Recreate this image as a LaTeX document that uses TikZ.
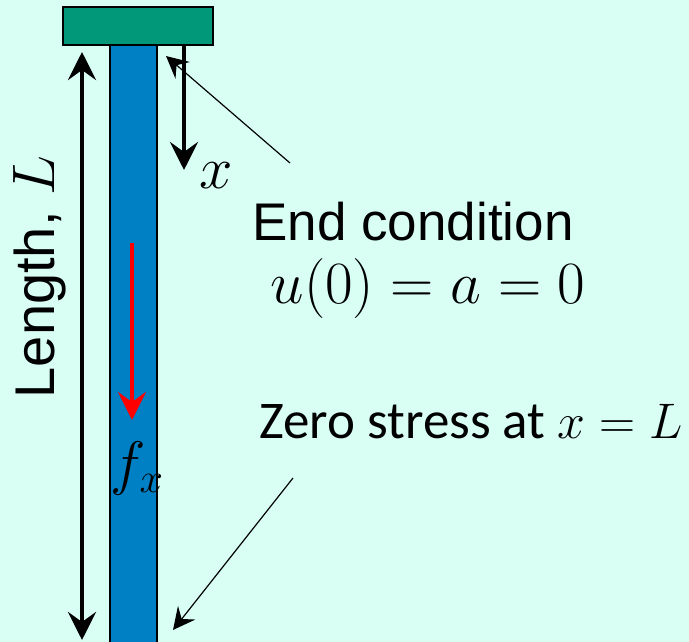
\RequirePackage{fix-cm}
\documentclass[tikz,border=0pt]{standalone}
\usepackage{fontspec}
\setmainfont{Liberation Sans}
\newfontfamily\calib{Carlito}
\usetikzlibrary{arrows.meta}

\definecolor{bgcyan}{RGB}{217,255,245}
\definecolor{plategreen}{RGB}{0,152,120}
\definecolor{barblue}{RGB}{0,128,196}
\definecolor{loadred}{RGB}{255,0,0}

\newcommand{\bigmath}[2][60]{{\fontsize{#1}{64}\selectfont$#2$}}

\begin{document}
\begin{tikzpicture}[x=1pt, y=-1pt,
  bigarrow/.style={line width=4.5pt, -{Stealth[length=28pt,width=28pt,inset=10pt]}},
  leader/.style={line width=1.2pt, -{Stealth[length=22pt,width=22pt,inset=8pt]}},
  bigtext/.style={inner sep=0pt, anchor=base, font=\fontsize{53}{60}\selectfont}]

  % =======================================================
  % BACKGROUND
  % =======================================================
  \fill[bgcyan] (0,0) rectangle (689,642);
  \useasboundingbox (0,0) rectangle (689,642);

  % =======================================================
  % 1. Support plate and bar
  % =======================================================
  \draw[fill=barblue, line width=2pt] (110,45) rectangle (157,650);
  \draw[fill=plategreen, line width=2pt] (63,7) rectangle (213,45);

  % =======================================================
  % 2. Length arrow and label
  % =======================================================
  \coordinate (lentop) at (82,52);
  \coordinate (lenbot) at (82,640);
  \draw[bigarrow, {Stealth[length=28pt,width=28pt,inset=10pt]}-{Stealth[length=28pt,width=28pt,inset=10pt]}] (lentop) -- (lenbot);
  \node[inner sep=0pt, rotate=90, font=\fontsize{56}{60}\selectfont] (lenlabel) at (40,277) {Length, \bigmath{L}};

  % =======================================================
  % 3. Coordinate x
  % =======================================================
  \coordinate (xtop) at (184,45);
  \coordinate (xbot) at (184,170);
  \draw[bigarrow] (xtop) -- (xbot);
  \node[inner sep=0pt] (xlabel) at (216,176) {\bigmath{x}};

  % =======================================================
  % 4. Body force
  % =======================================================
  \coordinate (ftop) at (132,243);
  \coordinate (fbot) at (132,420);
  \draw[bigarrow, loadred, line width=3.5pt] (ftop) -- (fbot);
  \node[inner sep=0pt] (flabel) at (137,468) {\bigmath{f_x}};

  % =======================================================
  % 5. End conditions
  % =======================================================
  \node[bigtext] (endcond) at (413,240) {End condition};
  \node[bigtext] (endeq) at (428,303) {\bigmath{u(0) = a = 0}};
  \node[inner sep=0pt, anchor=base, font=\calib\fontsize{53}{60}\selectfont] (zerostress) at (471,438) {Zero stress at \bigmath[50]{x = L}};

  \coordinate (topfrom) at (290,163);
  \coordinate (topto) at (166,56);
  \draw[leader] (topfrom) -- (topto);
  \coordinate (botfrom) at (293,478);
  \coordinate (botto) at (173,630);
  \draw[leader] (botfrom) -- (botto);

\end{tikzpicture}
\end{document}
